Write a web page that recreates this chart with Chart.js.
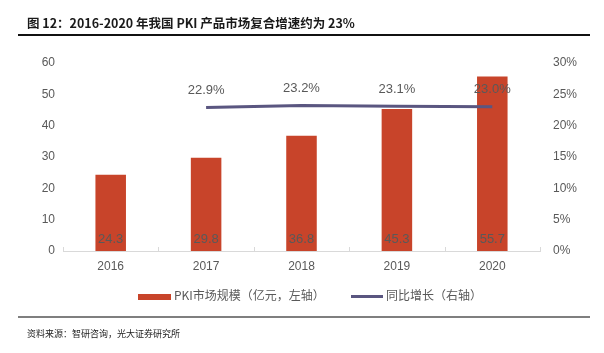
<!DOCTYPE html>
<html><head><meta charset="utf-8">
<script src="https://cdn.jsdelivr.net/npm/chart.js@4"></script>
<style>
html,body{margin:0;padding:0;background:#fff;}
#wrap{position:relative;width:604px;height:353px;overflow:hidden;}
#c{position:absolute;left:0;top:0;}
.title{position:absolute;left:27px;top:13px;font:bold 12.5px "Noto Sans CJK SC","Liberation Sans",sans-serif;color:#1a1a1a;white-space:nowrap;}
.hl{position:absolute;left:18px;width:572px;}
.src{position:absolute;left:27px;top:327px;font:9px "Noto Sans CJK SC",sans-serif;color:#222;white-space:nowrap;}
.leg{position:absolute;top:286px;font:12px "Noto Sans CJK SC","Liberation Sans",sans-serif;color:#595959;white-space:nowrap;}
</style></head><body>
<div id="wrap">
<canvas id="c" width="604" height="353"></canvas>
<div class="title">图 12：2016-2020 年我国 PKI 产品市场复合增速约为 23%</div>
<div class="hl" style="top:34px;height:1.5px;background:#111;"></div>
<div class="hl" style="top:316px;height:2px;background:#7f7f7f;"></div>
<div class="src">资料来源：智研咨询，光大证券研究所</div>
<div class="leg" style="left:138px;"><span style="display:inline-block;width:33px;height:6px;background:#C8442A;vertical-align:middle;margin-right:3px;"></span>PKI市场规模（亿元，左轴）</div>
<div class="leg" style="left:351px;"><span style="display:inline-block;width:32px;height:3px;background:#5A5680;vertical-align:middle;margin-right:3px;"></span>同比增长（右轴）</div>
</div>
<script>
const categories = ['2016','2017','2018','2019','2020'];
const marketSize = [24.3, 29.8, 36.8, 45.3, 55.7];
const yoyGrowth = [null, 22.9, 23.2, 23.1, 23.0];
const leftTicks = [0,10,20,30,40,50,60];
const rightTicks = [0,5,10,15,20,25,30];

const labelPlugin = {
  id:'labels',
  afterDatasetsDraw(chart){
    const ctx = chart.ctx;
    ctx.save();
    const xs = chart.scales.x, yb = chart.scales.y.bottom;
    ctx.strokeStyle = '#d9d9d9'; ctx.lineWidth = 1;
    for(let i=0;i<=categories.length;i++){
      const px = Math.round(xs.getPixelForValue(i-0.5)) + 0.5;
      ctx.beginPath(); ctx.moveTo(px, yb); ctx.lineTo(px, yb-4); ctx.stroke();
    }
    ctx.font = '13px "Liberation Sans", Arial, sans-serif';
    ctx.fillStyle = '#595959';
    ctx.textAlign = 'center';
    ctx.textBaseline = 'middle';
    const m0 = chart.getDatasetMeta(0);
    m0.data.forEach((el,i)=>{
      ctx.fillText(marketSize[i].toFixed(1), el.x, yb - 12);
    });
    const m1 = chart.getDatasetMeta(1);
    m1.data.forEach((el,i)=>{
      if(yoyGrowth[i]==null) return;
      ctx.fillText(yoyGrowth[i].toFixed(1)+'%', el.x, el.y - 17);
    });
    ctx.restore();
  }
};

new Chart(document.getElementById('c'), {
  data:{
    labels: categories,
    datasets:[
      {type:'bar', data: marketSize, backgroundColor:'#C8442A', yAxisID:'y', barPercentage:0.64, categoryPercentage:0.5, order:2},
      {type:'line', data: yoyGrowth, borderColor:'#5A5680', borderWidth:3, pointRadius:0, yAxisID:'y1', order:1, spanGaps:false, tension:0}
    ]
  },
  options:{
    responsive:false, animation:false,
    layout:{padding:{left:0,right:0,top:63,bottom:0}},
    plugins:{legend:{display:false}, tooltip:{enabled:false}},
    scales:{
      x:{
        grid:{display:false, drawTicks:false},
        border:{display:true,color:'#d9d9d9',width:1},
        ticks:{color:'#595959', font:{family:'"Liberation Sans", Arial', size:12}, padding:8},
        afterFit(s){ s.height = 102; }
      },
      y:{
        position:'left', min:0, max:60,
        afterBuildTicks(s){ s.ticks = leftTicks.map(v=>({value:v})); },
        grid:{display:false, drawTicks:false}, border:{display:false},
        ticks:{color:'#595959', font:{family:'"Liberation Sans", Arial', size:12}, padding:8},
        afterFit(s){ s.width = 63; }
      },
      y1:{
        position:'right', min:0, max:30,
        afterBuildTicks(s){ s.ticks = rightTicks.map(v=>({value:v})); },
        grid:{display:false, drawTicks:false}, border:{display:false},
        ticks:{color:'#595959', font:{family:'"Liberation Sans", Arial', size:12}, padding:13, callback:v=>v+'%'},
        afterFit(s){ s.width = 64; }
      }
    }
  },
  plugins:[labelPlugin]
});
</script>
</body></html>
